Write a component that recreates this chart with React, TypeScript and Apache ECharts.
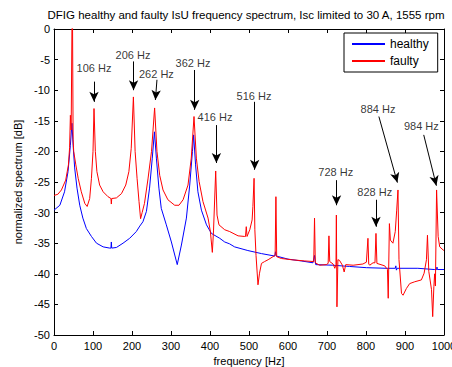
import React, { useEffect, useRef } from "react";
import * as echarts from "echarts";

// ---------- data ----------
const titleText =
  "DFIG healthy and faulty IsU frequency spectrum, Isc limited to 30 A, 1555 rpm";

const xTicksMin = 0;
const xTicksMax = 1000;
const xTickStep = 100;
const yTicksMin = -50;
const yTicksMax = 0;
const yTickStep = 5;

const healthyHz = [
  0, 15, 27, 36, 42, 46, 49, 53, 59, 66, 74, 83, 96, 109, 126, 143, 146, 147,
  148, 160, 177, 194, 211, 220, 228, 237, 245, 252, 257.5, 262.5, 269, 275,
  288, 301, 316, 326.7, 339.5, 348, 355, 358, 363, 369, 378, 391, 403.6, 425,
  437.7, 450, 463, 497, 532, 566, 568, 570, 600, 634, 664, 668, 671, 715, 758,
  801, 852, 875, 876.5, 878, 880, 933, 975, 981, 982, 983, 1000,
];
const healthyDb = [
  -29.6, -28.8, -26.6, -23.3, -19.0, -15.4, -19, -22.7, -26.0, -28.8, -30.9,
  -32.6, -33.9, -35.0, -35.6, -35.8, -35.8, -34.8, -35.8, -35.7, -35.0, -34.2,
  -33.1, -32.2, -31.5, -29.8, -26.0, -21.1, -16.8, -21.1, -26.0, -29.3, -32.0,
  -34.8, -38.5, -35.3, -30.9, -25.5, -20.0, -17.3, -22.2, -26.6, -29.6, -32.0,
  -33.4, -34.2, -34.8, -35.1, -35.6, -36.2, -36.7, -37.1, -36.4, -37.1, -37.6,
  -37.9, -38.2, -37.0, -38.5, -38.6, -38.8, -39.0, -39.1, -39.1, -38.7, -39.4,
  -39.1, -39.1, -39.3, -39.3, -38.9, -39.3, -39.3,
];

const faultyHz = [
  0, 10, 19, 30, 37, 40, 42, 44, 47, 49, 50.5, 56, 62, 70, 79, 85, 91.5, 96,
  100, 102.6, 106, 110, 117, 126, 138.5, 146, 147, 148, 160, 173, 184, 192,
  198, 203.6, 208, 213, 218, 222, 226, 232, 241, 250, 258, 264, 271, 279.5,
  292, 309.5, 320.5, 331, 343.6, 352, 359, 365, 372, 382, 395, 401, 406, 409,
  414.6, 418, 423, 437.7, 450.5, 472, 489, 491, 493, 495, 502, 508, 510, 513,
  515, 518, 523, 527, 532, 540, 549, 561.5, 567, 569, 571, 583, 608.7, 643,
  666, 668, 670, 681, 698, 703, 705, 707, 715.6, 720, 723, 724, 725.5, 728,
  732, 739.5, 744, 748, 767, 792, 801, 805, 807, 809.5, 818, 823, 825.6, 828,
  848, 855, 857, 860, 862.5, 869, 875, 878.7, 882, 884.6, 891, 895, 903.6,
  912, 925, 942, 949, 955, 957.6, 961, 968, 971, 974, 976, 978, 981, 985, 989,
  997.7, 1000,
];
const faultyDb = [
  -27.2, -27.0, -26.3, -24.7, -22.2, -19.4, -14.1, -16.5, 8, -18, -20, -22.2,
  -24.4, -26.6, -28.5, -29.0, -27.7, -24.4, -20, -13.0, -20, -23.3, -25.5,
  -26.6, -27.4, -27.7, -28.6, -27.7, -27.6, -26.9, -25.5, -23.3, -19.5, -11.1,
  -20, -24.4, -28.2, -31.0, -30.0, -28.5, -24.5, -20, -12.9, -20, -23.9,
  -26.3, -27.9, -28.8, -28.8, -27.9, -25.5, -21.1, -14.3, -21.1, -24.9,
  -28.2, -30.9, -33.1, -36.5, -33, -23.2, -30.4, -32.0, -32.8, -33.1, -33.8,
  -33.9, -33.9, -32.3, -33.9, -32.8, -31.2, -29, -24.4, -32.8, -37, -41.8,
  -39.9, -38.3, -38.0, -37.7, -37.2, -37.0, -27.4, -37.2, -37.5, -37.7,
  -37.9, -38.0, -30.9, -38.2, -38.6, -38.5, -38.3, -33.8, -38.0, -38.4,
  -39.1, -38.5, -30.4, -45.4, -37.7, -37.8, -38.6, -39.7, -38.5, -38.6,
  -38.4, -38.1, -34.2, -38.4, -38.6, -38.2, -38.2, -33.4, -38.3, -38.7,
  -39.3, -44.0, -31.8, -34.5, -35.0, -33.1, -29.6, -26.3, -37.7, -43.2,
  -43.5, -42.4, -41.6, -41.3, -41.0, -39.9, -37.7, -33.7, -39.6, -42.6,
  -47.0, -42.1, -40, -42, -26.3, -33.9, -35.6, -36.1, -36.2,
];

// annotations (text centre and arrow, in data units)
const annotationLabels = [
  "106 Hz", "206 Hz", "262 Hz", "362 Hz", "416 Hz",
  "516 Hz", "728 Hz", "828 Hz", "884 Hz", "984 Hz",
];
const labelHz = [102.6, 202.6, 262.6, 356.4, 412.8, 512.8, 722.3, 822.3, 830.8, 942];
const labelDb = [-6.4, -4.25, -7.3, -5.5, -14.3, -10.9, -23.4, -26.7, -13.0, -15.8];
const arrowFromHz = [102.6, 204, 264, 360.8, 416.4, 514.6, 724.5, 825.6, 833, 948];
const arrowFromDb = [-8.6, -5.3, -8.3, -6.7, -15.7, -11.9, -24.7, -27.9, -14.3, -17.3];
const arrowToHz = [102.6, 204, 260, 360.8, 416.4, 514.6, 724.5, 825.6, 880.5, 980.5];
const arrowToDb = [-11.9, -10.0, -11.6, -13.2, -21.9, -23.0, -28.8, -32.3, -25.1, -25.6];

const FONT = "'Liberation Sans', Arial, sans-serif";

export default function App() {
  const ref = useRef<HTMLDivElement>(null);

  useEffect(() => {
    if (!ref.current) return;
    const chart = echarts.init(ref.current, undefined, { renderer: "svg" });

    const healthy = healthyHz.map((f, i) => [f, healthyDb[i]]);
    const faulty = faultyHz.map((f, i) => [f, faultyDb[i]]);
    const labels = labelHz.map((f, i) => ({
      value: [f, labelDb[i]],
      label: { formatter: annotationLabels[i] },
    }));
    const arrows = arrowFromHz.map((f, i) => [
      { coord: [f, arrowFromDb[i]] },
      { coord: [arrowToHz[i], arrowToDb[i]] },
    ]);

    const baseX = {
      type: "value",
      min: xTicksMin,
      max: xTicksMax,
      interval: xTickStep,
      splitLine: { show: false },
      axisLine: { show: true, onZero: false, lineStyle: { color: "#000", width: 1 } },
      axisTick: { show: true, inside: true, length: 4, lineStyle: { color: "#000" } },
    };
    const baseY = {
      type: "value",
      min: yTicksMin,
      max: yTicksMax,
      interval: yTickStep,
      splitLine: { show: false },
      axisLine: { show: true, onZero: false, lineStyle: { color: "#000", width: 1 } },
      axisTick: { show: true, inside: true, length: 4, lineStyle: { color: "#000" } },
    };

    chart.setOption({
      animation: false,
      textStyle: { fontFamily: FONT },
      title: {
        text: titleText,
        left: 246,
        textAlign: "center",
        top: 9,
        padding: 0,
        textStyle: { fontSize: 11.5, fontWeight: "normal", color: "#000", fontFamily: FONT },
      },
      legend: {
        data: ["healthy", "faulty"],
        orient: "vertical",
        left: 344,
        top: 33,
        padding: [5, 9, 5, 8],
        itemGap: 5,
        itemWidth: 33,
        itemHeight: 2,
        icon: "rect",
        borderColor: "#000",
        borderWidth: 1,
        backgroundColor: "#fff",
        textStyle: { fontSize: 12, color: "#000", fontFamily: FONT },
      },
      grid: {
        left: 54,
        right: 8,
        top: 29,
        bottom: 32,
        containLabel: false,
        outerBoundsMode: "none",
      },
      xAxis: [
        {
          ...baseX,
          position: "bottom",
          name: "frequency [Hz]",
          nameLocation: "middle",
          nameGap: 20,
          nameTextStyle: { fontSize: 11, color: "#000", fontFamily: FONT },
          axisLabel: {
            color: "#000",
            fontSize: 11,
            margin: 5,
            fontFamily: FONT,
            formatter: (v: number) => String(v),
          },
        },
        {
          ...baseX,
          position: "top",
          axisLabel: { show: false },
        },
      ],
      yAxis: [
        {
          ...baseY,
          position: "left",
          name: "normalized spectrum [dB]",
          nameLocation: "middle",
          nameGap: 26,
          nameTextStyle: { fontSize: 11, color: "#000", fontFamily: FONT },
          axisLabel: {
            color: "#000",
            fontSize: 11,
            margin: 4,
            fontFamily: FONT,
            formatter: (v: number) => String(v),
          },
        },
        {
          ...baseY,
          position: "right",
          axisLabel: { show: false },
        },
      ],
      series: [
        {
          name: "healthy",
          type: "line",
          data: healthy,
          showSymbol: false,
          symbol: "none",
          clip: true,
          color: "#0000ff",
          lineStyle: { color: "#0000ff", width: 1 },
          silent: true,
        },
        {
          name: "faulty",
          type: "line",
          data: faulty,
          showSymbol: false,
          symbol: "none",
          clip: true,
          color: "#ff0000",
          lineStyle: { color: "#ff0000", width: 1 },
          silent: true,
        },
        {
          name: "annotations",
          type: "scatter",
          data: labels,
          symbol: "rect",
          symbolSize: 1,
          itemStyle: { color: "rgba(0,0,0,0)" },
          label: {
            show: true,
            position: "inside",
            color: "#000",
            fontSize: 11,
            fontFamily: FONT,
          },
          silent: true,
          markLine: {
            silent: true,
            symbol: ["none", "arrow"],
            symbolSize: [7, 10],
            label: { show: false },
            lineStyle: { color: "#000", width: 1, type: "solid" },
            data: arrows,
          },
        },
      ],
    } as any);

    return () => chart.dispose();
  }, []);

  return (
    <div
      ref={ref}
      style={{ position: "fixed", left: 0, top: 0, width: 452, height: 367, background: "#fff" }}
    />
  );
}
